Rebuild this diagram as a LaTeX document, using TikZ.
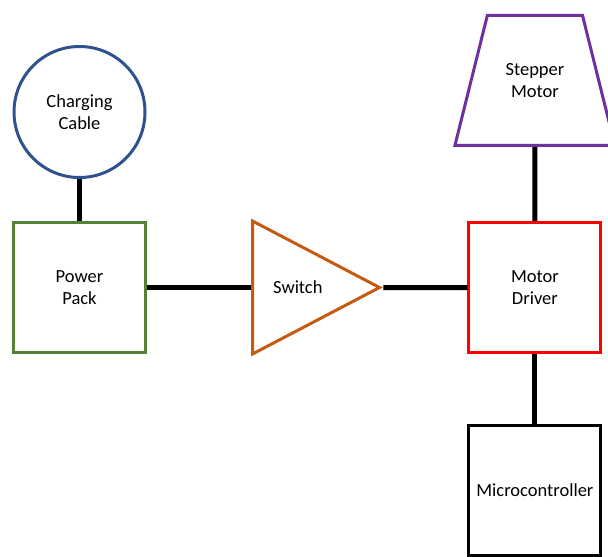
\documentclass[tikz,border=0pt]{standalone}
\usepackage{fontspec}
\setmainfont{Carlito}
\usetikzlibrary{positioning,shapes.geometric}
\definecolor{cableblue}{RGB}{47,82,143}
\definecolor{packgreen}{RGB}{84,130,53}
\definecolor{switchorange}{RGB}{197,90,17}
\definecolor{motorpurple}{RGB}{112,48,160}

\begin{document}
\begin{tikzpicture}[
  x=1pt, y=-1pt,
  part/.style={draw, line width=3pt, align=center, inner sep=0pt, font=\fontsize{18.5}{22}\selectfont},
  box/.style={part, minimum width=132pt, minimum height=130pt},
  wire/.style={line width=5pt},
]
\useasboundingbox (0,0) rectangle (608,557);

% Power side
\node[box, draw=packgreen] (pack) at (79.5,287.5) {Power\\Pack};
\node[part, circle, draw=cableblue, minimum size=131pt, above=42pt of pack] (cable) {Charging\\Cable};
\draw[wire] (cable) -- (pack);

% Switch
\node[part, isosceles triangle, isosceles triangle stretches, draw=switchorange, minimum width=133pt, minimum height=127pt, right=104pt of pack] (switch) {Switch};
\draw[wire] (pack) -- (switch.west);

% Motor side
\node[box, draw=red, right=84pt of switch] (driver) {Motor\\Driver};
\draw[wire] (switch.apex) -- (driver);

\node[part, trapezium, trapezium left angle=76, trapezium right angle=76, trapezium stretches body, draw=motorpurple, minimum width=160pt, inner ysep=48pt, above=74pt of driver] (stepper) {Stepper\\Motor};
\draw[wire] (stepper) -- (driver);

\node[box, draw=black, below=70pt of driver] (mcu) {Microcontroller};
\draw[wire] (driver) -- (mcu);
\end{tikzpicture}
\end{document}
